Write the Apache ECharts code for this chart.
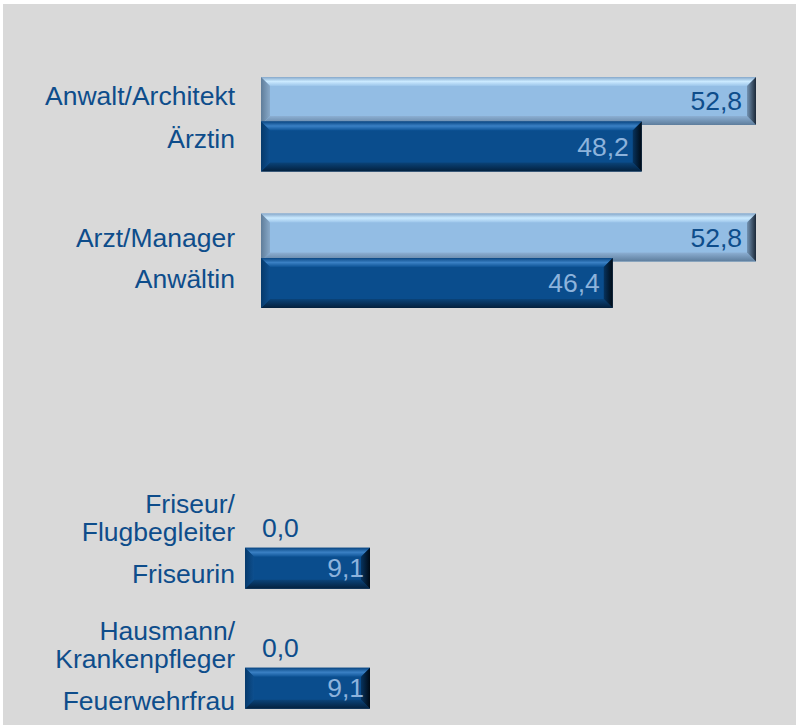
<!DOCTYPE html>
<html>
<head>
<meta charset="utf-8">
<script src="https://cdn.jsdelivr.net/npm/echarts@6/dist/echarts.min.js"></script>
<style>
html, body { margin: 0; background: #fff; }
#chart { position: absolute; left: 3px; top: 4px; width: 793px; height: 721px; }
</style>
</head>
<body>
<div id="chart"></div>
<script>
// Berufspaare oben: Mann-Beruf / Frau-Beruf (Prozent)
var maleJobsTop = ['Anwalt/Architekt', 'Arzt/Manager'];
var femaleJobsTop = ['Ärztin', 'Anwältin'];
var maleTop = [52.8, 52.8];
var femaleTop = [48.2, 46.4];

// Berufspaare unten
var maleJobsBottom = ['Friseur/\nFlugbegleiter', 'Hausmann/\nKrankenpfleger'];
var femaleJobsBottom = ['Friseurin', 'Feuerwehrfrau'];
var maleBottom = [0.0, 0.0];
var femaleBottom = [9.1, 9.1];

// Frauen oben liegen auf einer eigenen (Sekundär-)Achse wie im Excel-Original
var FEM_MIN = 24.57, FEM_MAX = 55.29;

var FONT = '"Liberation Sans", Arial, sans-serif';
var FS = 26.5;
var TXT = '#0e4d8b';

// Kategorien: Mann, Frau, Leerzeile, Mann, Frau
function pairCats(m, f) {
	var c = [];
	for (var i = 0; i < m.length; i++) {
		if (i > 0) c.push('');
		c.push(m[i], f[i]);
	}
	return c;
}
function rows(vals, off) {
	return vals.map(function (v, i) { return [v, 3 * i + off]; });
}

// kleine Versätze der Beschriftung wie im Original
// (Padding verschiebt jede Zeile um d, ohne die Zeilenhöhe zu ändern)
function shiftedLabels(shift, margin) {
	var rich = {
		n: { color: TXT, fontSize: FS, fontFamily: FONT, lineHeight: 28 }
	};
	shift.forEach(function (d, i) {
		var p = Math.round(Math.abs(d) * 2);
		rich['a' + i] = {
			color: TXT, fontSize: FS, fontFamily: FONT, lineHeight: 28,
			padding: d > 0 ? [p, 0, 0, 0] : [0, 0, p, 0]
		};
	});
	return {
		interval: 0,
		margin: margin,
		color: TXT,
		fontSize: FS,
		fontFamily: FONT,
		lineHeight: 28,
		align: 'right',
		rich: rich,
		formatter: function (v, i) {
			if (!v) return '';
			var s = shift[i] ? 'a' + i : 'n';
			return v.split('\n').map(function (l) {
				return '{' + s + '|' + l + '}';
			}).join('\n');
		}
	};
}

var lightPal = {
	body: '#93bde4',
	top: ['#86a8ca', '#cbeaff', '#9cc5ea'],
	bottom: ['#8cafd3', '#5d7d9c'],
	left: ['#5f7d9a', '#88a9c9'],
	right: ['#7393b3', '#1b2838'],
	label: '#0e4d8b'
};
var darkPal = {
	body: '#0a4d8d',
	top: ['#0a4783', '#3a80c4', '#0d5396'],
	bottom: ['#0a4379', '#03203d'],
	left: ['#063a6c', '#0d4f8f'],
	right: ['#07335e', '#000a14'],
	label: '#8db3dc'
};

function vgrad(c) {
	var stops = c.map(function (col, i) { return { offset: i / (c.length - 1), color: col }; });
	return new echarts.graphic.LinearGradient(0, 0, 0, 1, stops);
}
function hgrad(c) {
	return new echarts.graphic.LinearGradient(0, 0, 1, 0, [
		{ offset: 0, color: c[0] }, { offset: 1, color: c[1] }
	]);
}

// Balken mit Fasenkante (Excel "Abschrägung")
function bevelBar(pal, base, thick, inDist, zeroDist) {
	return function (params, api) {
		var v = api.value(0), row = api.value(1);
		var p0 = api.coord([base, row]), p1 = api.coord([v, row]);
		var x0 = p0[0], x1 = p1[0], cy = p1[1];
		var y0 = cy - thick / 2, y1 = cy + thick / 2;
		var w = x1 - x0;
		var kids = [];
		var txt = v.toFixed(1).replace('.', ',');
		if (w > 0.5) {
			var b = Math.min(9, w / 2, thick / 2);
			kids.push({ type: 'rect', shape: { x: x0, y: y0, width: w, height: thick }, style: { fill: pal.body } });
			kids.push({ type: 'polygon', shape: { points: [[x0, y0], [x1, y0], [x1 - b, y0 + b], [x0 + b, y0 + b]] }, style: { fill: vgrad(pal.top) } });
			kids.push({ type: 'polygon', shape: { points: [[x0 + b, y1 - b], [x1 - b, y1 - b], [x1, y1], [x0, y1]] }, style: { fill: vgrad(pal.bottom) } });
			kids.push({ type: 'polygon', shape: { points: [[x0, y0], [x0 + b, y0 + b], [x0 + b, y1 - b], [x0, y1]] }, style: { fill: hgrad(pal.left) } });
			kids.push({ type: 'polygon', shape: { points: [[x1 - b, y0 + b], [x1, y0], [x1, y1], [x1 - b, y1 - b]] }, style: { fill: hgrad(pal.right) } });
			kids.push({ type: 'text', style: { text: txt, x: x1 - inDist, y: cy, align: 'right', verticalAlign: 'middle', fill: pal.label, font: FS + 'px ' + FONT } });
		} else {
			kids.push({ type: 'text', style: { text: txt, x: x0 + zeroDist, y: cy, align: 'left', verticalAlign: 'middle', fill: TXT, font: FS + 'px ' + FONT } });
		}
		return { type: 'group', children: kids };
	};
}

var chart = echarts.init(document.getElementById('chart'), null, { renderer: 'svg' });

var option = {
	backgroundColor: '#d9d9d9',
	animation: false,
	grid: [
		{ left: 258, right: 40, top: 74.25, height: 227.5 },
		{ left: 242, right: 40, top: 504.3, height: 200 }
	],
	xAxis: [
		{ gridIndex: 0, type: 'value', min: 0, max: 52.8, show: false },
		{ gridIndex: 0, type: 'value', min: FEM_MIN, max: FEM_MAX, show: false },
		{ gridIndex: 1, type: 'value', min: 0, max: 37.2, show: false }
	],
	yAxis: [
		{
			gridIndex: 0, type: 'category', inverse: true,
			data: pairCats(maleJobsTop, femaleJobsTop),
			axisLine: { show: false }, axisTick: { show: false }, splitLine: { show: false },
			axisLabel: shiftedLabels([-5.5, -7.5, 0, 0, -4], 26)
		},
		{
			gridIndex: 1, type: 'category', inverse: true,
			data: pairCats(maleJobsBottom, femaleJobsBottom),
			axisLine: { show: false }, axisTick: { show: false }, splitLine: { show: false },
			axisLabel: shiftedLabels([-10, 6, 0, -3, 13], 10)
		}
	],
	series: [
		{
			name: 'Mann oben', type: 'custom', xAxisIndex: 0, yAxisIndex: 0,
			encode: { x: 0, y: 1 }, data: rows(maleTop, 0),
			renderItem: bevelBar(lightPal, 0, 48, 14, 17)
		},
		{
			name: 'Frau oben', type: 'custom', xAxisIndex: 1, yAxisIndex: 0,
			encode: { x: 0, y: 1 }, data: rows(femaleTop, 1),
			renderItem: bevelBar(darkPal, FEM_MIN, 50, 13, 17)
		},
		{
			name: 'Mann unten', type: 'custom', xAxisIndex: 2, yAxisIndex: 1,
			encode: { x: 0, y: 1 }, data: rows(maleBottom, 0),
			renderItem: bevelBar(lightPal, 0, 41, 6, 17)
		},
		{
			name: 'Frau unten', type: 'custom', xAxisIndex: 2, yAxisIndex: 1,
			encode: { x: 0, y: 1 }, data: rows(femaleBottom, 1),
			renderItem: bevelBar(darkPal, 0, 41, 6, 17)
		}
	]
};
chart.setOption(option);
</script>
</body>
</html>
